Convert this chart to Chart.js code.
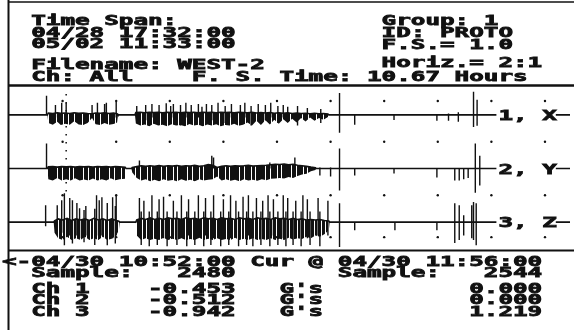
<!DOCTYPE html>
<html>
<head>
<meta charset="utf-8">
<script src="https://cdn.jsdelivr.net/npm/chart.js@4.4.1/dist/chart.umd.min.js"></script>
<style>
  html, body { margin: 0; padding: 0; background: #fff; }
  canvas { display: block; }
</style>
</head>
<body>
<canvas id="scope" width="574" height="330"></canvas>
<script>
// x = minutes from the left edge of the screen (04/30 10:52), y = G's
// band envelopes: [minute, top, bottom]
const ch1Env = [
  [0,0,0],[43,0,0],
  [44,0.07,-0.30],[49,0.05,-0.37],[54,0.08,-0.26],[58,0.06,-0.38],[63,0.07,-0.33],[68,0.05,-0.37],
  [73,0.08,-0.24],[78,0.06,-0.36],[83,0.07,-0.38],[88,0.05,-0.30],[93,0.04,-0.12],[97,0.07,-0.35],
  [102,0.06,-0.38],[107,0.08,-0.30],[112,0.05,-0.37],[117,0.07,-0.34],[121,0.04,-0.28],[122,0,0],
  [141,0,0],
  [142,0.09,-0.32],[147,0.1,-0.40],[152,0.08,-0.36],[157,0.1,-0.42],[162,0.09,-0.33],[167,0.1,-0.40],
  [172,0.08,-0.37],[177,0.1,-0.42],[182,0.09,-0.35],[187,0.1,-0.40],[192,0.08,-0.38],[197,0.1,-0.42],
  [202,0.09,-0.34],[207,0.1,-0.40],[212,0.08,-0.37],[217,0.1,-0.42],[222,0.09,-0.36],[227,0.1,-0.40],
  [232,0.08,-0.35],[237,0.1,-0.42],[242,0.09,-0.38],[247,0.1,-0.40],[252,0.08,-0.33],[257,0.1,-0.41],
  [262,0.09,-0.37],[267,0.08,-0.28],[272,0.1,-0.40],[277,0.07,-0.22],[282,0.09,-0.38],[287,0.07,-0.20],
  [292,0.09,-0.36],[297,0.06,-0.18],[302,0.08,-0.33],[307,0.06,-0.16],[312,0.08,-0.30],[317,0.05,-0.14],
  [322,0.07,-0.28],[327,0.05,-0.12],[332,0.06,-0.25],[337,0.04,-0.10],[342,0.06,-0.22],[347,0.04,-0.12],
  [352,0.05,-0.18],[357,0.03,-0.08],[358,0,0],
  [628,0,0]
];
const ch2Env = [
  [0,0,0],[43,0,0],
  [44,0.06,-0.40],[49,0.07,-0.45],[54,0.05,-0.35],[59,0.07,-0.45],[64,0.06,-0.40],[69,0.07,-0.45],
  [74,0.05,-0.36],[79,0.07,-0.45],[84,0.06,-0.41],[89,0.07,-0.45],[94,0.05,-0.37],[99,0.07,-0.45],
  [104,0.06,-0.40],[109,0.07,-0.45],[114,0.05,-0.36],[119,0.07,-0.44],[124,0.06,-0.40],[130,0.05,-0.38],[131,0,0],
  [137,0,0],
  [138,0.04,-0.15],[143,0.07,-0.35],[148,0.1,-0.45],[153,0.08,-0.40],[158,0.1,-0.48],[163,0.08,-0.42],
  [168,0.11,-0.48],[173,0.08,-0.40],[178,0.1,-0.46],[183,0.09,-0.43],[188,0.11,-0.48],[193,0.08,-0.40],
  [198,0.1,-0.46],[203,0.09,-0.42],[208,0.12,-0.48],[213,0.08,-0.40],[218,0.1,-0.45],[223,0.15,-0.42],
  [228,0.12,-0.40],[233,0.04,-0.30],[238,0.08,-0.45],[243,0.1,-0.40],[248,0.08,-0.46],[253,0.1,-0.42],
  [258,0.09,-0.48],[263,0.1,-0.40],[268,0.12,-0.45],[273,0.09,-0.42],[278,0.1,-0.46],[283,0.11,-0.40],
  [288,0.12,-0.44],[293,0.14,-0.38],[298,0.16,-0.37],[303,0.15,-0.35],[308,0.17,-0.37],[313,0.14,-0.32],
  [318,0.16,-0.35],[323,0.12,-0.28],[328,0.1,-0.22],[333,0.08,-0.2],[338,0.05,-0.1],[343,0.03,-0.06],[344,0,0],
  [628,0,0]
];
const ch3Env = [
  [0,0,0],[50,0,0],
  [51,0.05,-0.4],[55,0.12,-0.6],[60,0.08,-0.67],[65,0.14,-0.55],[70,0.06,-0.67],[75,0.12,-0.6],
  [80,0.08,-0.67],[85,0.12,-0.55],[90,0.06,-0.67],[95,0.14,-0.6],[100,0.08,-0.67],[105,0.12,-0.55],
  [110,0.06,-0.67],[115,0.12,-0.62],[120,0.06,-0.5],[123,0.03,-0.3],[124,0,0],
  [142,0,0],
  [143,0.08,-0.5],[148,0.14,-0.67],[153,0.1,-0.6],[158,0.16,-0.67],[163,0.1,-0.62],[168,0.14,-0.67],
  [173,0.1,-0.58],[178,0.16,-0.67],[183,0.12,-0.62],[188,0.14,-0.67],[193,0.1,-0.6],[198,0.16,-0.67],
  [203,0.12,-0.63],[208,0.14,-0.67],[213,0.1,-0.58],[218,0.16,-0.67],[223,0.12,-0.62],[228,0.14,-0.67],
  [233,0.1,-0.6],[238,0.16,-0.67],[243,0.12,-0.63],[248,0.14,-0.67],[253,0.1,-0.58],[258,0.16,-0.67],
  [263,0.12,-0.62],[268,0.14,-0.67],[273,0.1,-0.6],[278,0.16,-0.67],[283,0.12,-0.63],[288,0.14,-0.67],
  [293,0.1,-0.6],[298,0.16,-0.67],[303,0.12,-0.62],[308,0.14,-0.67],[313,0.1,-0.58],[318,0.14,-0.65],
  [323,0.1,-0.6],[328,0.12,-0.63],[333,0.08,-0.55],[338,0.1,-0.6],[343,0.08,-0.5],[348,0.1,-0.55],
  [353,0.06,-0.45],[358,0.04,-0.3],[359,0,0],
  [628,0,0]
];

// single spikes: [minute, peak up, peak down]
const ch1Spk = [
  [42,0.71,0],
  [52,0.37,-0.1],[59,0.45,-0.1],[64,0.45,-0.2],[93,0.37,-0.1],[99,0.45,-0.1],[107,0.41,-0.2],[109,0.45,-0.1],[120,0.48,-0.1],
  [143,0.33,-0.1],[153,0.37,-0.2],[160,0.41,-0.1],[168,0.37,-0.3],[176,0.43,-0.1],[181,0.33,-0.2],[184,0.41,-0.1],
  [192,0.37,-0.4],[198,0.45,-0.1],[204,0.37,-0.2],[212,0.41,-0.1],[216,0.3,-0.4],[221,0.41,-0.1],[227,0.37,-0.2],
  [234,0.45,-0.1],[242,0.33,-0.3],[249,0.41,-0.1],[259,0.37,-0.2],[264,0.45,-0.1],[271,0.33,-0.4],[279,0.41,-0.1],
  [287,0.37,-0.2],[293,0.45,-0.1],[301,0.33,-0.3],[307,0.37,-0.1],[312,0.3,-0.2],[323,0.33,-0.4],[334,0.26,-0.1],[349,0.22,-0.3],
  [370,0.82,-0.67],[387,0,-0.37],[431,0,-0.19],[479,0,-0.22],[492,0.05,-0.22],[503,0.1,-0.26],[520,0.86,-0.45],[524,0.56,-0.41]
];
const ch2Spk = [
  [42,0.93,0],[146,0.3,0],[227,0.48,-0.1],[229,0.41,0],[292,0.22,0],[320,0.41,-0.1],[348,0.04,-0.26],[360,0.04,-0.3],
  [370,0.75,-0.82],[387,0,-0.26],[431,0,-0.19],[479,0,-0.34],[499,0,-0.45],[504,0,-0.45],[509,0,-0.4],[514,0,-0.35],
  [522,0.93,-0.9],[527,0.48,-0.63]
];
const ch3Spk = [
  [41,0.63,-0.15],
  [54,0.63,-0.3],[59,0.82,-0.4],[62,1.08,-0.86],[68,0.9,-0.5],[71,0.82,-0.8],[76,0.71,-0.5],[79,0.52,-0.6],
  [84,0.45,-0.75],[86,0.6,-0.5],[96,0.5,-0.85],[98,1.0,-0.5],[101,0.82,-0.6],[104,0.93,-0.5],[110,0.71,-0.86],
  [116,0.93,-0.6],[119,0.6,-0.8],[120,1.0,-0.5],
  [146,0.9,-0.5],[148,0.4,-0.85],[151,0.8,-0.5],[157,0.4,-0.9],[160,1.0,-0.5],[166,0.4,-0.85],[168,0.85,-0.5],
  [173,0.95,-0.6],[177,0.4,-0.9],[184,0.8,-0.5],[188,0.4,-0.85],[193,1.0,-0.6],[199,0.4,-0.9],[201,0.85,-0.5],
  [208,0.4,-0.85],[212,1.0,-0.6],[218,0.4,-0.9],[220,0.9,-0.5],[226,0.4,-0.85],[229,1.0,-0.6],[237,0.4,-0.9],
  [240,0.85,-0.5],[246,0.4,-0.85],[248,1.0,-0.6],[254,0.8,-0.5],[257,0.4,-0.9],[262,0.95,-0.6],[266,0.4,-0.85],
  [268,1.0,-0.5],[273,0.4,-0.9],[277,0.9,-0.6],[282,0.4,-0.85],[284,0.8,-0.5],[290,1.0,-0.6],[292,0.4,-0.9],
  [296,0.85,-0.5],[301,0.4,-0.85],[307,1.0,-0.6],[310,0.4,-0.9],[312,0.9,-0.5],[318,0.4,-0.85],[321,0.8,-0.6],
  [327,0.4,-0.9],[329,1.0,-0.5],[334,0.85,-0.6],[337,0.4,-0.85],[346,0.9,-0.5],[348,0.4,-0.9],[357,0.8,-0.5],
  [370,0.7,-0.93],[387,0,-0.3],[432,0,-0.3],[479,0,-0.3],[499,0.7,-0.78],[504,0.63,-0.67],[509,0.26,-0.5],
  [518,0.63,-0.6],[520,0.75,-0.67],[523,0.7,-0.86]
];

const channelOffsets = [0, -2, -4];
const channelLabels = ['1, X', '2, Y', '3, Z'];

// dotted grid: one column per hour, rows in G's
const gridMinutes = [60, 120, 180, 240, 300, 360, 420, 480, 540, 600];
const gridRows = [0.52, -1.0, -3.0, -4.56];
const cursorMinute = 64;

// text rows: [baseline y, column, text]
const headerRows = [
  [25, 2, 'Time Span:'], [25, 26, 'Group: 1'],
  [37, 2, '04/28 17:32:00'], [37, 26, 'ID: PROTO'],
  [48, 2, '05/02 11:33:00'], [49, 26, 'F.S.= 1.0'],
  [69, 2, 'Filename: WEST-2'], [67, 26, 'Horiz.= 2:1'],
  [81, 2, 'Ch: All'], [81, 13, 'F. S. Time: 10.67 Hours']
];
const footerRows = [
  [266, 0, '<-04/30 10:52:00 Cur @ 04/30 11:56:00'],
  [277, 2, 'Sample:'], [277, 12, '2480'], [277, 23, 'Sample:'], [277, 33, '2544'],
  [293, 2, 'Ch 1'], [293, 10, '-0.453'], [293, 19, "G's"], [293, 32, '0.000'],
  [304, 2, 'Ch 2'], [304, 10, '-0.512'], [304, 19, "G's"], [304, 32, '0.000'],
  [316, 2, 'Ch 3'], [316, 10, '-0.942'], [316, 19, "G's"], [316, 32, '1.219']
];

const PITCH = 14.6;
const INK = '#111';

const canvas = document.getElementById('scope');

// uneven vertical hatching so the busy parts of a trace look like packed strokes
function hatch(mask) {
  const c = document.createElement('canvas');
  c.width = mask.length;
  c.height = 4;
  const g = c.getContext('2d');
  g.fillStyle = INK;
  for (let i = 0; i < mask.length; i++) {
    if (mask[i] === '1') g.fillRect(i, 0, 1, 4);
  }
  return canvas.getContext('2d').createPattern(c, 'repeat');
}
const bandFills = [
  hatch('11110111111011110111110111'),
  hatch('11111011110111111011101111'),
  hatch('1101110110111011101101110111')
];

function envLine(env, off, idx) {
  return env.map(p => ({ x: p[0], y: off + p[idx] }));
}

function spikeLine(list, off) {
  const out = [];
  list.forEach(s => {
    out.push({ x: s[0], y: off + s[1] }, { x: s[0], y: off + s[2] }, { x: s[0], y: null });
  });
  return out;
}

const datasets = [];
[ch1Env, ch2Env, ch3Env].forEach((env, i) => {
  const off = channelOffsets[i];
  datasets.push({
    data: envLine(env, off, 1), borderColor: INK, borderWidth: 1.6,
    backgroundColor: bandFills[i], fill: '+1'
  });
  datasets.push({ data: envLine(env, off, 2), borderColor: 'rgba(0,0,0,0)', borderWidth: 0, fill: false });
});
[ch1Spk, ch2Spk, ch3Spk].forEach((spk, i) => {
  datasets.push({ data: spikeLine(spk, channelOffsets[i]), borderColor: INK, borderWidth: 1.4, fill: false });
});

const dots = [];
gridMinutes.forEach(m => gridRows.forEach(r => dots.push({ x: m, y: r })));
datasets.push({ data: dots, showLine: false, pointRadius: 1.2, pointBackgroundColor: INK, pointBorderWidth: 0 });
datasets.push({
  data: [{ x: cursorMinute, y: 0.78 }, { x: cursorMinute, y: -2.99 }],
  borderColor: INK, borderWidth: 1.5, borderDash: [1.5, 6.5], fill: false
});

function drawText(ctx, text, x, y, pitch) {
  ctx.save();
  ctx.translate(x, y);
  const adv = ctx.measureText('0').width;
  ctx.scale(pitch / adv, 1);
  ctx.fillText(text, 0, 0);
  ctx.strokeText(text, 0, 0);
  ctx.restore();
}

const screenPlugin = {
  id: 'screen',
  afterDraw(chart) {
    const ctx = chart.ctx;
    const yScale = chart.scales.y;
    ctx.save();
    ctx.strokeStyle = INK;
    ctx.lineCap = 'butt';

    // frame lines
    ctx.lineWidth = 1.5;
    ctx.beginPath(); ctx.moveTo(8, 2); ctx.lineTo(574, 2); ctx.stroke();
    ctx.lineWidth = 2;
    ctx.beginPath(); ctx.moveTo(8.5, 0); ctx.lineTo(8.5, 330); ctx.stroke();
    ctx.lineWidth = 2.5;
    ctx.beginPath(); ctx.moveTo(8, 85.5); ctx.lineTo(574, 85.5); ctx.stroke();
    ctx.lineWidth = 2;
    ctx.beginPath(); ctx.moveTo(8, 250.5); ctx.lineTo(574, 250.5); ctx.stroke();

    ctx.font = 'bold 14px "DejaVu Sans Mono"';
    ctx.fillStyle = INK;
    ctx.lineWidth = 0.8;
    ctx.textBaseline = 'alphabetic';

    // channel labels over the trace ends
    channelOffsets.forEach((off, i) => {
      const yb = yScale.getPixelForValue(off);
      ctx.fillStyle = '#fff';
      ctx.fillRect(34 * PITCH, yb - 8, 4 * PITCH + 1, 16);
      ctx.fillStyle = INK;
      drawText(ctx, channelLabels[i], 34 * PITCH + 2, yb + 5, PITCH);
    });

    headerRows.concat(footerRows).forEach(([y, col, text]) => {
      drawText(ctx, text, col * PITCH + 2, y, PITCH);
    });
    ctx.restore();
  }
};

new Chart(canvas, {
  type: 'line',
  data: { datasets },
  options: {
    responsive: false,
    animation: false,
    events: [],
    layout: { padding: { left: 9, top: 87, right: 0, bottom: 80 } },
    elements: { point: { radius: 0 }, line: { tension: 0 } },
    plugins: { legend: { display: false }, tooltip: { enabled: false } },
    scales: {
      x: { type: 'linear', display: false, min: 0, max: 628 },
      y: { type: 'linear', display: false, min: -5.04, max: 1.04 }
    }
  },
  plugins: [screenPlugin]
});
</script>
</body>
</html>
